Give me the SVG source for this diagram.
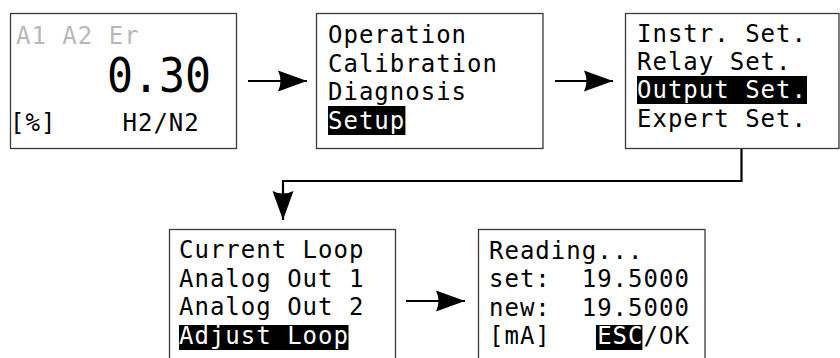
<svg xmlns="http://www.w3.org/2000/svg" width="840" height="358" viewBox="0 0 840 358">
<style>
.box{fill:#fff;stroke:#3a3a3a;stroke-width:1.3}
.t{font-family:"DejaVu Sans Mono",monospace;font-size:24px;letter-spacing:1px;fill:#000}
.big{font-size:48px;letter-spacing:0}
.grey{fill:#b8b8b8}
.inv{fill:#fff}
.hl{fill:#000}
.c{fill:none;stroke:#000;stroke-width:2.2}
</style>
<defs>
<marker id="ah" markerUnits="userSpaceOnUse" markerWidth="32" markerHeight="24" viewBox="-31 -12 32 24" refX="0" refY="0" orient="auto">
<path d="M0,0 L-29,-10.5 Q-24,0 -29,10.5 Z" fill="#000"/>
</marker>
</defs>
<rect width="840" height="358" fill="#fff"/>
<g id="connectors">
<path class="c" d="M248,81 H307" marker-end="url(#ah)"/>
<path class="c" d="M555,81 H613" marker-end="url(#ah)"/>
<path class="c" d="M741.5,148 V181 H283 V220" marker-end="url(#ah)"/>
<path class="c" d="M406,301 H465" marker-end="url(#ah)"/>
</g>
<g id="display">
<rect class="box" x="10.5" y="13.5" width="226" height="135"/>
<text class="t grey" x="16" y="44">A1 A2 Er</text>
<text class="t big" x="107" y="92" textLength="104" lengthAdjust="spacingAndGlyphs">0.30</text>
<text class="t" x="10" y="131">[%]</text>
<text class="t" x="122.5" y="131">H2/N2</text>
</g>
<g id="main-menu">
<rect class="box" x="316.5" y="13.5" width="226.5" height="135"/>
<text class="t" x="328" y="43">Operation</text>
<text class="t" x="328" y="71.5">Calibration</text>
<text class="t" x="328" y="100">Diagnosis</text>
<rect class="hl" x="328" y="106" width="77.4" height="29"/>
<text class="t inv" x="328" y="128.5">Setup</text>
</g>
<g id="setup-menu">
<rect class="box" x="625.5" y="13.5" width="213.5" height="135"/>
<text class="t" x="637" y="42">Instr. Set.</text>
<text class="t" x="637" y="70">Relay Set.</text>
<rect class="hl" x="637" y="76" width="170" height="28"/>
<text class="t inv" x="637" y="98">Output Set.</text>
<text class="t" x="637" y="127">Expert Set.</text>
</g>
<g id="output-menu">
<rect class="box" x="169.5" y="229.5" width="226" height="135"/>
<text class="t" x="179" y="258">Current Loop</text>
<text class="t" x="179" y="286.5">Analog Out 1</text>
<text class="t" x="179" y="315">Analog Out 2</text>
<rect class="hl" x="179" y="325" width="169.5" height="25"/>
<text class="t inv" x="179" y="344">Adjust Loop</text>
</g>
<g id="adjust-loop">
<rect class="box" x="478.5" y="229.5" width="226.5" height="135"/>
<text class="t" x="489" y="259">Reading...</text>
<text class="t" x="489" y="287" xml:space="preserve">set:  19.5000</text>
<text class="t" x="489" y="315.5" xml:space="preserve">new:  19.5000</text>
<rect class="hl" x="596" y="325" width="46.4" height="25"/>
<text class="t" x="489" y="344" xml:space="preserve">[mA]   <tspan class="inv">ESC</tspan>/OK</text>
</g>
</svg>
